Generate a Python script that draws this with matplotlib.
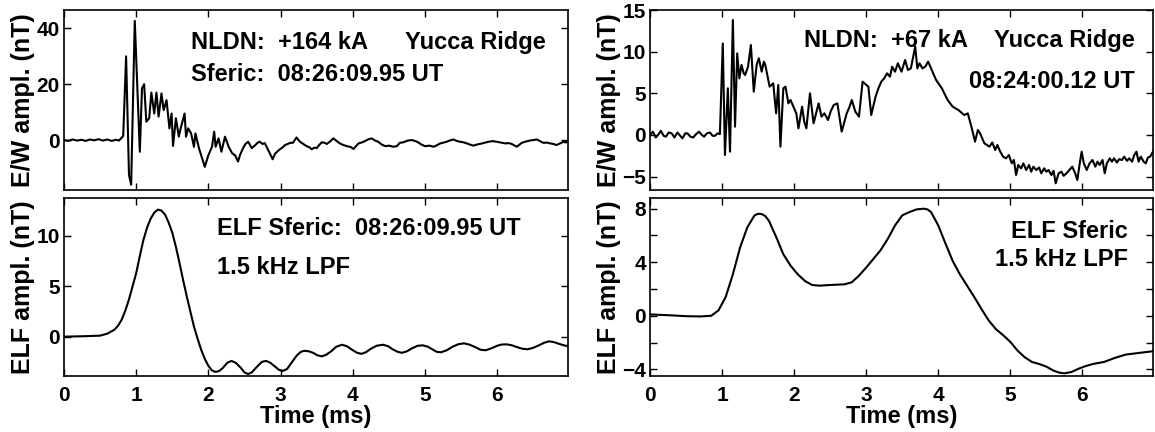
import matplotlib
matplotlib.use('Agg')
from matplotlib import pyplot as plt
from matplotlib.ticker import MultipleLocator

plt.rcParams['font.family'] = ['Liberation Sans', 'DejaVu Sans']
plt.rcParams['font.weight'] = 'bold'

# top left: E/W sferic, 08:26:09.95 UT
ew1_t = [0.00, 0.06, 0.12, 0.18, 0.24, 0.30, 0.36, 0.42, 0.48, 0.54, 0.60, 0.66, 0.72, 0.76,
         0.79, 0.82, 0.86, 0.90, 0.93, 0.98, 1.05, 1.08, 1.11, 1.14, 1.18, 1.21, 1.25, 1.28,
         1.31, 1.35, 1.38, 1.42, 1.46, 1.49, 1.51, 1.55, 1.59, 1.61, 1.67, 1.69, 1.72, 1.76,
         1.80, 1.82, 1.87, 1.92, 1.95, 2.00, 2.05, 2.08, 2.10, 2.14, 2.18, 2.23, 2.28, 2.33,
         2.37, 2.41, 2.44, 2.48, 2.51, 2.55, 2.60, 2.65, 2.68, 2.71, 2.75, 2.78, 2.84, 2.89,
         2.92, 2.95, 2.99, 3.03, 3.06, 3.10, 3.13, 3.17, 3.22, 3.26, 3.29, 3.33, 3.36, 3.40,
         3.43, 3.47, 3.50, 3.54, 3.57, 3.61, 3.64, 3.69, 3.73, 3.78, 3.82, 3.87, 3.92, 3.97,
         4.01, 4.05, 4.08, 4.12, 4.15, 4.21, 4.26, 4.31, 4.35, 4.40, 4.45, 4.50, 4.56, 4.61,
         4.65, 4.70, 4.76, 4.82, 4.89, 4.95, 5.00, 5.06, 5.12, 5.17, 5.21, 5.26, 5.30, 5.35,
         5.39, 5.44, 5.48, 5.53, 5.58, 5.62, 5.67, 5.72, 5.76, 5.82, 5.88, 5.94, 5.99, 6.05,
         6.11, 6.16, 6.20, 6.27, 6.31, 6.34, 6.40, 6.45, 6.50, 6.55, 6.60, 6.64, 6.69, 6.73,
         6.78, 6.82, 6.87, 6.92, 6.95, 6.98]
ew1_v = [0.0, -0.3, 0.2, -0.2, 0.1, -0.3, 0.2, -0.1, 0.3, -0.2, 0.2, -0.3, 0.1, -0.2,
         0.6, 1.5, 30.0, -12.5, -16.0, 42.7, -4.2, 18.5, 20.0, 6.6, 7.8, 17.0, 9.5, 17.0,
         8.4, 16.7, 10.7, 14.3, 4.2, 9.5, -2.1, 7.8, 1.2, 3.6, 9.5, 1.2, 4.2, 2.4,
         -2.4, 2.4, -3.0, -7.2, -9.6, -5.4, -2.4, 3.0, -2.4, 0.6, -4.2, 1.2, -2.4, -4.8,
         -5.5, -7.7, -5.2, -2.9, -1.5, -0.6, -2.9, -1.8, -1.0, -0.6, -1.4, -1.1, -4.2, -6.9,
         -5.0, -4.2, -3.3, -2.6, -1.8, -1.4, -1.0, -1.0, 0.9, -0.4, -1.0, -1.7, -2.2, -2.6,
         -3.3, -2.7, -2.9, -1.6, -0.8, -1.0, -1.4, -0.4, 0.6, -0.4, -1.2, -1.8, -2.2, -2.5,
         -3.2, -2.0, -1.2, -0.9, -0.6, 0.2, 0.6, -0.2, -0.6, -1.6, -2.2, -2.0, -2.4, -2.2,
         -1.0, -0.8, -0.2, 0.0, -0.6, -1.6, -2.2, -2.0, -2.4, -1.8, -1.2, -0.9, -0.6, -0.1,
         0.2, -0.3, -0.6, -0.8, -1.2, -1.6, -2.0, -1.6, -1.4, -1.0, -0.6, -0.4, -0.6, -0.9,
         -1.2, -1.1, -1.4, -2.4, -1.6, -1.0, -0.5, -0.2, 0.0, 0.2, -0.5, -1.0, -0.9, -1.2,
         -1.4, -1.8, -1.2, -0.6, -0.9, -0.2]

# top right: E/W sferic, 08:24:00.12 UT
ew2_t = [0.00, 0.04, 0.08, 0.12, 0.15, 0.19, 0.22, 0.26, 0.30, 0.34, 0.38, 0.42, 0.45, 0.49,
         0.52, 0.56, 0.60, 0.64, 0.68, 0.72, 0.75, 0.79, 0.83, 0.87, 0.90, 0.94, 0.97,
         1.01, 1.04, 1.08, 1.11, 1.15, 1.18, 1.21, 1.24, 1.27, 1.30, 1.32, 1.36, 1.40, 1.44,
         1.48, 1.51, 1.55, 1.58, 1.60, 1.66, 1.71, 1.75, 1.78, 1.81, 1.85, 1.88, 1.92, 1.95,
         1.99, 2.03, 2.06, 2.11, 2.14, 2.17, 2.22, 2.27, 2.31, 2.34, 2.38, 2.42, 2.47, 2.51,
         2.55, 2.60, 2.66, 2.73, 2.77, 2.80, 2.85, 2.90, 2.95, 3.03, 3.07, 3.13, 3.17, 3.21,
         3.25, 3.29, 3.33, 3.36, 3.40, 3.44, 3.49, 3.54, 3.58, 3.62, 3.68, 3.71, 3.74, 3.78,
         3.82, 3.86, 3.90, 3.97, 4.05, 4.13, 4.20, 4.28, 4.36, 4.41, 4.46, 4.51, 4.55, 4.58,
         4.64, 4.71, 4.75, 4.79, 4.82, 4.86, 4.90, 4.94, 4.98, 5.02, 5.05, 5.08, 5.11, 5.15,
         5.18, 5.22, 5.26, 5.29, 5.32, 5.36, 5.40, 5.43, 5.47, 5.50, 5.53, 5.57, 5.60, 5.63,
         5.67, 5.71, 5.74, 5.78, 5.82, 5.86, 5.90, 5.93, 5.96, 5.99, 6.02, 6.06, 6.10, 6.14,
         6.18, 6.21, 6.24, 6.28, 6.31, 6.34, 6.38, 6.41, 6.44, 6.48, 6.51, 6.55, 6.58, 6.62,
         6.65, 6.69, 6.72, 6.75, 6.78, 6.81, 6.85, 6.88, 6.91, 6.94, 6.98]
ew2_v = [0.0, 0.4, -0.3, 0.1, 0.5, -0.1, -0.2, 0.3, 0.2, -0.3, 0.3, -0.1, -0.4, 0.2,
         0.2, -0.2, -0.3, 0.1, 0.4, 0.0, -0.2, 0.2, 0.3, -0.1, -0.1, 0.2, 0.1,
         11.0, -2.4, 5.6, -2.0, 13.8, 1.0, 9.8, 6.8, 8.4, 7.4, 7.2, 8.2, 10.8, 5.2,
         8.4, 9.2, 7.6, 8.8, 8.4, 5.8, 6.2, 2.6, 6.0, -1.4, 5.6, 5.8, 3.8, 4.2,
         3.4, 2.6, 0.8, 3.4, 1.6, 0.8, 5.0, 1.4, 2.8, 3.8, 2.2, 2.6, 1.8, 2.9,
         3.6, 3.8, 0.4, 2.6, 3.4, 4.2, 2.8, 2.2, 6.4, 5.8, 2.4, 4.6, 5.6, 6.4,
         6.8, 7.4, 7.0, 8.2, 7.6, 8.6, 7.6, 9.0, 7.8, 8.0, 10.6, 8.0, 8.6, 8.0,
         8.2, 8.8, 8.0, 6.6, 5.6, 4.2, 3.4, 3.0, 2.4, 2.6, 1.0, -0.8, 0.6, 0.2,
         -1.0, -1.4, -0.9, -1.8, -1.2, -2.0, -2.6, -2.8, -2.4, -3.4, -3.0, -4.8, -3.6, -4.0,
         -3.4, -4.2, -3.6, -4.4, -3.8, -4.2, -3.9, -4.6, -4.0, -4.4, -4.2, -4.8, -4.3, -5.8,
         -4.6, -4.4, -4.9, -4.6, -4.2, -3.8, -4.6, -5.4, -3.6, -2.0, -3.4, -4.2, -3.4, -3.0,
         -3.8, -3.2, -3.6, -3.0, -4.6, -3.4, -2.8, -3.2, -2.8, -3.3, -2.9, -3.0, -2.6, -3.1,
         -2.8, -3.2, -2.4, -2.0, -3.2, -2.6, -3.2, -3.4, -2.7, -2.6, -2.0]

# bottom left: ELF sferic, 1.5 kHz LPF
elf1_t = [0.00, 0.30, 0.50, 0.60, 0.70, 0.75, 0.80, 0.85, 0.90, 0.95, 1.00, 1.05, 1.10, 1.15,
          1.20, 1.25, 1.30, 1.35, 1.40, 1.45, 1.50, 1.55, 1.60, 1.65, 1.70, 1.75, 1.80, 1.85,
          1.90, 1.95, 2.00, 2.05, 2.10, 2.15, 2.20, 2.26, 2.32, 2.38, 2.45, 2.50, 2.55, 2.60,
          2.67, 2.74, 2.80, 2.86, 2.92, 2.98, 3.03, 3.09, 3.15, 3.22, 3.28, 3.33, 3.39, 3.45,
          3.51, 3.57, 3.63, 3.70, 3.77, 3.85, 3.92, 4.00, 4.06, 4.12, 4.18, 4.25, 4.33, 4.42,
          4.49, 4.55, 4.62, 4.68, 4.75, 4.82, 4.90, 4.97, 5.04, 5.10, 5.16, 5.22, 5.30, 5.38,
          5.46, 5.54, 5.62, 5.70, 5.77, 5.84, 5.92, 6.00, 6.06, 6.13, 6.20, 6.28, 6.35, 6.42,
          6.50, 6.58, 6.65, 6.72, 6.79, 6.85, 6.92, 6.98]
elf1_v = [0.0, 0.05, 0.1, 0.3, 0.7, 1.1, 1.7, 2.6, 3.7, 5.0, 6.3, 8.0, 9.6, 10.8,
          11.7, 12.3, 12.6, 12.5, 12.1, 11.3, 10.3, 8.9, 7.3, 5.6, 4.0, 2.5, 1.0, -0.2,
          -1.3, -2.2, -2.9, -3.35, -3.5, -3.4, -3.1, -2.6, -2.4, -2.6, -3.1, -3.55, -3.7, -3.55,
          -3.0, -2.5, -2.4, -2.6, -2.95, -3.3, -3.4, -3.2, -2.6, -1.9, -1.5, -1.4, -1.45, -1.6,
          -1.85, -1.95, -1.8, -1.45, -1.0, -0.8, -0.95, -1.35, -1.6, -1.7, -1.55, -1.2, -0.9, -0.8,
          -0.95, -1.25, -1.5, -1.6, -1.45, -1.15, -0.9, -0.86, -1.0, -1.25, -1.5, -1.55, -1.35, -1.0,
          -0.75, -0.66, -0.8, -1.05, -1.3, -1.35, -1.15, -0.9, -0.78, -0.76, -0.85, -1.05, -1.2, -1.25,
          -1.1, -0.85, -0.6, -0.46, -0.55, -0.7, -0.85, -0.95]

# bottom right: ELF sferic, 1.5 kHz LPF
elf2_t = [0.00, 0.30, 0.50, 0.70, 0.85, 0.95, 1.05, 1.15, 1.25, 1.35, 1.45, 1.50, 1.55, 1.60,
          1.65, 1.75, 1.85, 1.95, 2.05, 2.15, 2.25, 2.35, 2.50, 2.70, 2.80, 2.90, 3.00, 3.10,
          3.20, 3.30, 3.40, 3.50, 3.60, 3.70, 3.80, 3.85, 3.90, 4.00, 4.10, 4.20, 4.30, 4.40,
          4.50, 4.60, 4.70, 4.80, 4.90, 5.00, 5.10, 5.20, 5.30, 5.40, 5.50, 5.60, 5.68, 5.75,
          5.85, 5.95, 6.05, 6.15, 6.30, 6.45, 6.60, 6.75, 6.90, 6.98]
elf2_v = [0.1, 0.03, -0.03, -0.05, 0.0, 0.4, 1.4, 3.1, 5.1, 6.6, 7.5, 7.62, 7.6, 7.45,
          7.1, 5.9, 4.6, 3.75, 3.1, 2.6, 2.3, 2.25, 2.3, 2.35, 2.5, 3.0, 3.6, 4.25,
          4.9, 5.75, 6.75, 7.5, 7.75, 7.95, 8.0, 7.95, 7.75, 6.75, 5.4, 4.1, 3.1, 2.25,
          1.4, 0.5, -0.35, -1.0, -1.45, -1.95, -2.6, -3.1, -3.45, -3.6, -3.8, -4.1, -4.25, -4.3,
          -4.2, -3.95, -3.75, -3.6, -3.45, -3.15, -2.9, -2.8, -2.7, -2.65]

xticks = [0, 1, 2, 3, 4, 5, 6]

W, H = 1155, 432
fig = plt.figure(figsize=(W / 100, H / 100), dpi=100)


def px_axes(x0, x1, y0, y1):
    return fig.add_axes([x0 / W, 1 - y1 / H, (x1 - x0) / W, (y1 - y0) / H])


ax_tl = px_axes(64, 568, 10, 190)
ax_tr = px_axes(650, 1153, 10, 190)
ax_bl = px_axes(64, 568, 198, 376)
ax_br = px_axes(650, 1153, 198, 376)

ax_tl.plot(ew1_t, ew1_v, color='k', lw=1.5)
ax_tr.plot(ew2_t, ew2_v, color='k', lw=1.5)
ax_bl.plot(elf1_t, elf1_v, color='k', lw=1.5)
ax_br.plot(elf2_t, elf2_v, color='k', lw=1.5)

ax_tl.set_ylim(-17.9, 46.6)
ax_tl.set_yticks([0, 20, 40])
ax_tr.set_ylim(-6.6, 15.0)
ax_tr.set_yticks([-5, 0, 5, 10, 15])
ax_bl.set_ylim(-3.9, 13.75)
ax_bl.set_yticks([0, 5, 10])
ax_br.set_ylim(-4.5, 8.8)
ax_br.set_yticks([-4, 0, 4, 8])
ax_br.yaxis.set_minor_locator(MultipleLocator(2))

for ax in (ax_tl, ax_tr, ax_bl, ax_br):
    ax.set_xlim(0, 6.98)
    ax.set_xticks(xticks)
    ax.tick_params(which='both', direction='in', top=True, right=True,
                   length=5, width=1, labelsize=15)
    ax.tick_params(axis='y', pad=3)
    ax.tick_params(axis='x', pad=7)
    for s in ax.spines.values():
        s.set_linewidth(1.2)
    for lab in ax.get_yticklabels() + ax.get_xticklabels():
        lab.set_fontweight('bold')

for ax in (ax_tl, ax_tr):
    ax.tick_params(labelbottom=False)
    ax.set_ylabel('E/W ampl. (nT)', fontsize=18, fontweight='bold', labelpad=1)
for ax in (ax_bl, ax_br):
    ax.set_ylabel('ELF ampl. (nT)', fontsize=18, fontweight='bold', labelpad=1)
    ax.set_xlabel('Time (ms)', fontsize=17, fontweight='bold', labelpad=0)

tk = dict(fontsize=17, fontweight='bold', va='center')
ax_tl.text(0.252, 0.817, 'NLDN:  +164 kA', transform=ax_tl.transAxes, **tk)
ax_tl.text(0.677, 0.817, 'Yucca Ridge', transform=ax_tl.transAxes, **tk)
ax_tl.text(0.252, 0.639, 'Sferic:  08:26:09.95 UT', transform=ax_tl.transAxes, **tk)

ax_tr.text(0.306, 0.83, 'NLDN:  +67 kA', transform=ax_tr.transAxes, **tk)
ax_tr.text(0.964, 0.83, 'Yucca Ridge', transform=ax_tr.transAxes, ha='right', **tk)
ax_tr.text(0.964, 0.6, '08:24:00.12 UT', transform=ax_tr.transAxes, ha='right', **tk)

ax_bl.text(0.304, 0.83, 'ELF Sferic:  08:26:09.95 UT', transform=ax_bl.transAxes, **tk)
ax_bl.text(0.304, 0.61, '1.5 kHz LPF', transform=ax_bl.transAxes, **tk)

ax_br.text(0.95, 0.81, 'ELF Sferic', transform=ax_br.transAxes, ha='right', **tk)
ax_br.text(0.95, 0.655, '1.5 kHz LPF', transform=ax_br.transAxes, ha='right', **tk)

fig.savefig('out.png', dpi=100)
plt.close(fig)
